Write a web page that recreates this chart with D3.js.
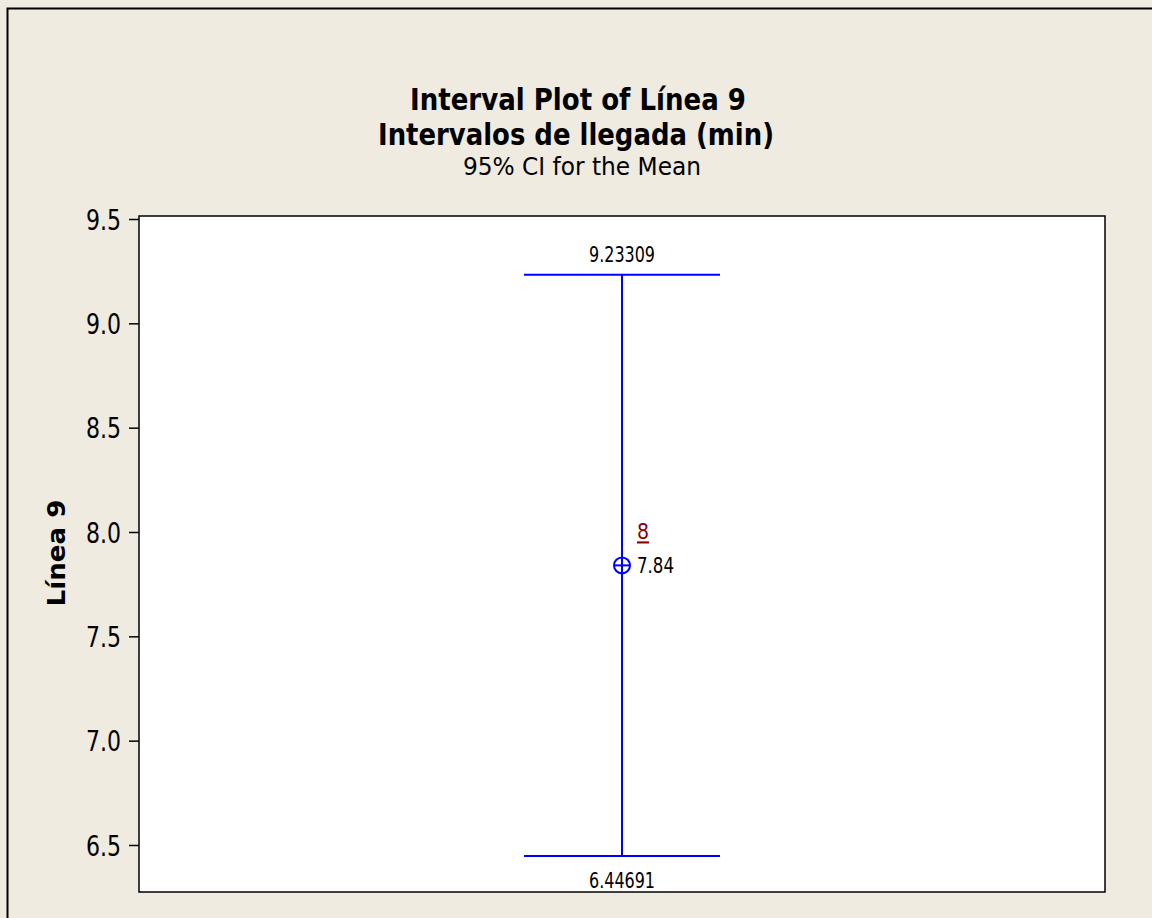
<!DOCTYPE html>
<html><head><meta charset="utf-8">
<script src="https://cdn.jsdelivr.net/npm/d3@7"></script>
<style>body{margin:0;background:#EFEBE1;} svg{display:block;}</style>
</head><body>
<svg id="c" width="1152" height="918"></svg>
<script>
const categories = ["Línea 9"];
const means = [7.84];
const lowerCI = [6.44691];
const upperCI = [9.23309];
const counts = [8];
const yTicks = [6.5, 7.0, 7.5, 8.0, 8.5, 9.0, 9.5];
const titles = ["Interval Plot of Línea 9", "Intervalos de llegada (min)", "95% CI for the Mean"];

const svg = d3.select("#c");
const W = 1152, H = 918;
const m = {l: 139, r: 1105, t: 216, b: 892};
const font = "'DejaVu Sans Condensed', 'DejaVu Sans', sans-serif";

svg.append("rect").attr("x",0).attr("y",0).attr("width",W).attr("height",H).attr("fill","#EFEBE1");
svg.append("path").attr("d",`M7.5,${H+5} V8.5 H${W+5}`).attr("fill","none").attr("stroke","#000").attr("stroke-width",2);

svg.append("rect").attr("x",m.l).attr("y",m.t).attr("width",m.r-m.l).attr("height",m.b-m.t)
  .attr("fill","#fff").attr("stroke","#000").attr("stroke-width",1.5);

const y = d3.scaleLinear().domain([6.2747, 9.5144]).range([m.b, m.t]);
const x = d3.scaleBand().domain(categories).range([m.l, m.r]).padding(0.8);

const ax = svg.append("g").attr("transform",`translate(${m.l},0)`)
  .call(d3.axisLeft(y).tickValues(yTicks).tickFormat(d3.format(".1f")).tickSize(10).tickPadding(8));
ax.select(".domain").remove();
ax.selectAll("line").attr("stroke","#000").attr("stroke-width",1.5);
ax.selectAll("text").attr("font-family",font).attr("font-size",28).attr("fill","#000")
  .attr("textLength",35).attr("lengthAdjust","spacingAndGlyphs").attr("dy","0.36em");

function title(t, cx, by, size, w, bold){
  svg.append("text").attr("x",cx).attr("y",by).attr("text-anchor","middle")
    .attr("font-family",font).attr("font-weight",bold?"bold":"normal").attr("font-size",size)
    .attr("textLength",w).attr("lengthAdjust","spacingAndGlyphs").text(t);
}
title(titles[0], 578, 110, 30, 336, true);
title(titles[1], 576, 145, 30, 396, true);
title(titles[2], 582, 175, 24, 238, false);

svg.append("text").attr("transform",`translate(65,553) rotate(-90)`).attr("text-anchor","middle")
  .attr("font-family","'DejaVu Sans', sans-serif").attr("font-weight","bold").attr("font-size",24)
  .attr("textLength",107).attr("lengthAdjust","spacingAndGlyphs").text(categories[0]);

const blue = "#0000FF";
const capHalf = 98;
categories.forEach((c,i)=>{
  const cx = x(c) + x.bandwidth()/2;
  const g = svg.append("g");
  g.append("line").attr("x1",cx).attr("x2",cx).attr("y1",y(upperCI[i])).attr("y2",y(lowerCI[i])).attr("stroke",blue).attr("stroke-width",2);
  [upperCI[i], lowerCI[i]].forEach(v=>{
    g.append("line").attr("x1",cx-capHalf).attr("x2",cx+capHalf).attr("y1",y(v)).attr("y2",y(v)).attr("stroke",blue).attr("stroke-width",2);
  });
  const my = y(means[i]);
  g.append("circle").attr("cx",cx).attr("cy",my).attr("r",8).attr("fill","none").attr("stroke",blue).attr("stroke-width",2);
  g.append("line").attr("x1",cx-8).attr("x2",cx+8).attr("y1",my).attr("y2",my).attr("stroke",blue).attr("stroke-width",2);
  g.append("text").attr("x",cx).attr("y",y(upperCI[i])-13).attr("text-anchor","middle")
    .attr("font-family",font).attr("font-size",21).attr("textLength",66).attr("lengthAdjust","spacingAndGlyphs")
    .text(String(upperCI[i]));
  g.append("text").attr("x",cx).attr("y",y(lowerCI[i])+32).attr("text-anchor","middle")
    .attr("font-family",font).attr("font-size",21).attr("textLength",66).attr("lengthAdjust","spacingAndGlyphs")
    .text(String(lowerCI[i]));
  g.append("text").attr("x",cx+15).attr("y",my+8).attr("font-family",font).attr("font-size",21)
    .attr("textLength",37).attr("lengthAdjust","spacingAndGlyphs").text(means[i]);
  g.append("text").attr("x",cx+15).attr("y",my-26).attr("font-family",font).attr("font-size",21)
    .attr("fill","#8B0000").attr("text-decoration","underline").text(counts[i]);
});
</script>
</body></html>
